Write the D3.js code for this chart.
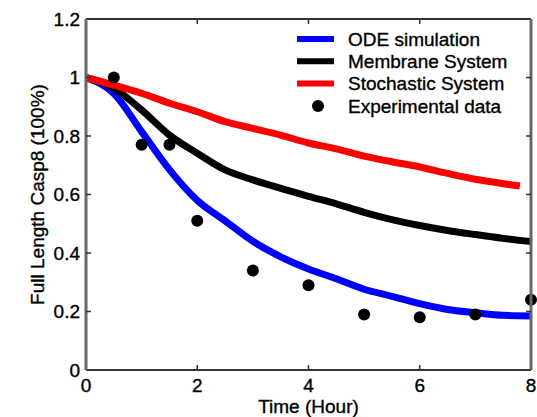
<!DOCTYPE html>
<html>
<head>
<meta charset="utf-8">
<script src="https://cdn.jsdelivr.net/npm/d3@7"></script>
<style>
  body { margin: 0; background: #fff; }
  svg text { font-family: "Liberation Sans", Arial, sans-serif; fill: #000; stroke: #000; stroke-width: 0.35px; }
</style>
</head>
<body>
<svg id="chart" width="537" height="417"></svg>
<script>
const odeTime   = [0, 0.5, 1, 1.5, 2, 2.5, 3, 3.5, 4, 4.5, 5, 5.5, 6, 6.5, 7, 7.5, 8];
const odeValue  = [1.0, 0.945, 0.815, 0.685, 0.58, 0.51, 0.44, 0.387, 0.345, 0.312, 0.276, 0.252, 0.227, 0.207, 0.196, 0.187, 0.185];

const memTime   = [0, 0.5, 1, 1.5, 2, 2.5, 3, 3.5, 4, 4.5, 5, 5.5, 6, 6.5, 7, 7.5, 8];
const memValue  = [1.0, 0.963, 0.889, 0.803, 0.741, 0.684, 0.65, 0.621, 0.594, 0.568, 0.539, 0.514, 0.494, 0.477, 0.463, 0.45, 0.439];

const stoTime   = [0, 0.5, 1, 1.5, 2, 2.5, 3, 3.5, 4, 4.5, 5, 5.5, 6, 6.5, 7, 7.5, 7.8];
const stoValue  = [1.0, 0.974, 0.946, 0.912, 0.883, 0.849, 0.826, 0.803, 0.776, 0.756, 0.731, 0.712, 0.694, 0.672, 0.652, 0.637, 0.629];

const expTime   = [0.5, 1, 1.5, 2, 3, 4, 5, 6, 7, 8];
const expValue  = [1.0, 0.77, 0.77, 0.51, 0.34, 0.29, 0.19, 0.18, 0.19, 0.24];

const xTicks = [0, 2, 4, 6, 8];
const yTicks = [0, 0.2, 0.4, 0.6, 0.8, 1, 1.2];

const legendLabels = ["ODE simulation", "Membrane System", "Stochastic System", "Experimental data"];
const legendColors = ["#0000ff", "#000000", "#ff0000", "#000000"];

const FONT = "19px";

const margin = { top: 19, right: 6, bottom: 47, left: 86 };
const svg    = d3.select("#chart");
const width  = 537 - margin.left - margin.right;
const height = 417 - margin.top - margin.bottom;

const x = d3.scaleLinear().domain([0, 8]).range([0, width]);
const y = d3.scaleLinear().domain([0, 1.2]).range([height, 0]);

const g = svg.append("g").attr("transform", `translate(${margin.left},${margin.top})`);

// curves
const line = d3.line().x(d => x(d[0])).y(d => y(d[1])).curve(d3.curveMonotoneX);
const series = [
  { t: odeTime, v: odeValue, color: "#0000ff" },
  { t: memTime, v: memValue, color: "#000000" },
  { t: stoTime, v: stoValue, color: "#ff0000" }
];
series.forEach(s => {
  g.append("path")
   .datum(s.t.map((t, i) => [t, s.v[i]]))
   .attr("fill", "none")
   .attr("stroke", s.color)
   .attr("stroke-width", 7)
   .attr("stroke-linejoin", "round")
   .attr("d", line);
});

// experimental points
g.append("g")
  .selectAll("circle")
  .data(expTime.map((t, i) => [t, expValue[i]]))
  .enter().append("circle")
    .attr("cx", d => x(d[0]))
    .attr("cy", d => y(d[1]))
    .attr("r", 6)
    .attr("fill", "#000");

// box + ticks
g.append("line").attr("x1", 0).attr("x2", width).attr("y1", 0).attr("y2", 0)
 .attr("stroke", "#333").attr("stroke-width", 2);
g.append("line").attr("x1", 0).attr("x2", width).attr("y1", height).attr("y2", height)
 .attr("stroke", "#333").attr("stroke-width", 2);
g.append("line").attr("x1", 0).attr("x2", 0).attr("y1", 0).attr("y2", height)
 .attr("stroke", "#666").attr("stroke-width", 3);
g.append("line").attr("x1", width).attr("x2", width).attr("y1", 0).attr("y2", height)
 .attr("stroke", "#666").attr("stroke-width", 3);

const tickLen = 5;
g.append("g").selectAll("line").data(xTicks.slice(1, -1)).enter().append("line")
  .attr("x1", d => x(d)).attr("x2", d => x(d))
  .attr("y1", height).attr("y2", height - tickLen)
  .attr("stroke", "#333").attr("stroke-width", 1.5);
g.append("g").selectAll("line").data(xTicks.slice(1, -1)).enter().append("line")
  .attr("x1", d => x(d)).attr("x2", d => x(d))
  .attr("y1", 0).attr("y2", tickLen)
  .attr("stroke", "#333").attr("stroke-width", 1.5);
g.append("g").selectAll("line").data(yTicks.slice(1, -1)).enter().append("line")
  .attr("x1", 0).attr("x2", tickLen)
  .attr("y1", d => y(d)).attr("y2", d => y(d))
  .attr("stroke", "#333").attr("stroke-width", 1.5);
g.append("g").selectAll("line").data(yTicks.slice(1, -1)).enter().append("line")
  .attr("x1", width).attr("x2", width - tickLen)
  .attr("y1", d => y(d)).attr("y2", d => y(d))
  .attr("stroke", "#333").attr("stroke-width", 1.5);

// tick labels
g.append("g").selectAll("text").data(xTicks).enter().append("text")
  .attr("x", d => x(d))
  .attr("y", height + 22)
  .attr("text-anchor", "middle")
  .style("font-size", FONT)
  .text(d => d);
g.append("g").selectAll("text").data(yTicks).enter().append("text")
  .attr("x", -6)
  .attr("y", d => y(d))
  .attr("dy", "0.35em")
  .attr("text-anchor", "end")
  .style("font-size", FONT)
  .text(d => d);

// axis titles
g.append("text")
  .attr("x", width / 2)
  .attr("y", height + 43)
  .attr("text-anchor", "middle")
  .style("font-size", FONT)
  .text("Time (Hour)");
g.append("text")
  .attr("transform", `translate(-42,${height / 2}) rotate(-90)`)
  .attr("text-anchor", "middle")
  .style("font-size", FONT)
  .text("Full Length Casp8 (100%)");

// legend
const legend = svg.append("g").attr("transform", "translate(297,39)");
legendLabels.forEach((label, i) => {
  const row = legend.append("g").attr("transform", `translate(0,${i * 22.3})`);
  if (i < 3) {
    row.append("line").attr("x1", 0).attr("x2", 37).attr("y1", 0).attr("y2", 0)
       .attr("stroke", legendColors[i]).attr("stroke-width", 6);
  } else {
    row.append("circle").attr("cx", 21).attr("cy", 0).attr("r", 6).attr("fill", legendColors[i]);
  }
  row.append("text")
     .attr("x", 51)
     .attr("y", 0)
     .attr("dy", "0.35em")
     .style("font-size", FONT)
     .text(label);
});
</script>
</body>
</html>
